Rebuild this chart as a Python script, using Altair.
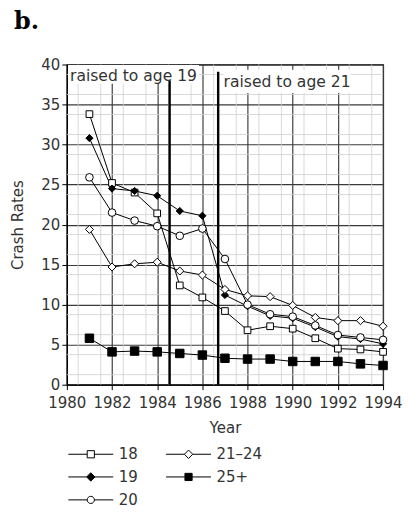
import altair as alt
import pandas as pd

# ---------------- data ----------------
YEARS = [1981, 1982, 1983, 1984, 1985, 1986, 1987, 1988, 1989, 1990, 1991, 1992, 1993, 1994]
SERIES = ["18", "19", "20", "21–24", "25+"]
RATE_18 = [33.8, 25.2, 24.0, 21.4, 12.4, 10.9, 9.2, 6.8, 7.3, 7.0, 5.8, 4.5, 4.4, 4.1]
RATE_19 = [30.8, 24.5, 24.2, 23.6, 21.7, 21.1, 11.2, 9.8, 8.6, 8.3, 7.2, 6.0, 5.7, 5.1]
RATE_20 = [25.9, 21.5, 20.5, 19.8, 18.6, 19.5, 15.7, 10.0, 8.8, 8.5, 7.4, 6.2, 5.9, 5.6]
RATE_21_24 = [19.4, 14.7, 15.1, 15.3, 14.2, 13.7, 11.9, 11.1, 11.0, 9.9, 8.4, 8.0, 8.0, 7.3]
RATE_25P = [5.8, 4.1, 4.2, 4.1, 3.9, 3.7, 3.3, 3.2, 3.2, 2.9, 2.9, 2.9, 2.6, 2.4]

NOTE_TEXT = ["raised to age 19", "raised to age 21"]
NOTE_X = [1982.95, 1989.75]
NOTE_Y = [38.55, 37.75]
BOX_X1 = [1980.05, 1986.95]
BOX_X2 = [1985.85, 1992.55]
BOX_Y1 = [37.6, 36.45]
BOX_Y2 = [39.95, 39.35]

LAW_X = [1984.55, 1986.7]
LAW_TOP = [38.0, 39.1]

AXIS_YEARS = list(range(1980, 1995))
AXIS_RATES = [v * 2.5 for v in range(17)]
MINOR_YEARS = [y + 0.5 for y in range(1980, 1994)]
MINOR_RATES = [v * 2.5 + 1.25 for v in range(16)]

# ---------------- tables ----------------
rows = []
for name, vals in zip(SERIES, [RATE_18, RATE_19, RATE_20, RATE_21_24, RATE_25P]):
    for yr, v in zip(YEARS, vals):
        rows.append({"year": yr, "rate": v, "series": name})
df = pd.DataFrame(rows)

notes = pd.DataFrame({"text": NOTE_TEXT, "x": NOTE_X, "y": NOTE_Y,
                      "x1": BOX_X1, "x2": BOX_X2, "y1": BOX_Y1, "y2": BOX_Y2})
laws = pd.DataFrame({"x": LAW_X, "top": LAW_TOP, "bottom": [0, 0]})
minor_v = pd.DataFrame({"x": MINOR_YEARS})
minor_h = pd.DataFrame({"y": MINOR_RATES})

FONT = "DejaVu Sans"
TXT = "#333333"
GRID = "#3a3a3a"

xscale = alt.Scale(domain=[1980, 1994], nice=False, zero=False)
yscale = alt.Scale(domain=[0, 40], nice=False)

x_axis = alt.Axis(
    values=AXIS_YEARS, format="d",
    labelExpr="datum.value % 2 === 0 ? datum.label : ''",
    title="Year", grid=True, gridColor=GRID, gridWidth=1.15,
    domainColor="black", domainWidth=1.2, tickColor="black", tickSize=5,
    labelPadding=6, labelFont=FONT, labelFontSize=15, labelColor=TXT,
    titleFont=FONT, titleFontSize=15, titleFontWeight="normal", titleColor=TXT,
    titlePadding=10, labelOverlap=False, labelFlush=False,
)
y_axis = alt.Axis(
    values=AXIS_RATES,
    labelExpr="datum.value % 5 === 0 ? datum.label : ''",
    title="Crash Rates", grid=True, gridColor=GRID, gridWidth=1.15,
    domainColor="black", domainWidth=1.2, tickColor="black", tickSize=5,
    tickOpacity={"condition": {"test": "datum.value % 5 !== 0", "value": 0}, "value": 1},
    labelPadding=2, labelFont=FONT, labelFontSize=15, labelColor=TXT,
    titleFont=FONT, titleFontSize=15, titleFontWeight="normal", titleColor=TXT,
    titlePadding=15, labelOverlap=False, labelFlush=False,
)

base = alt.Chart(df)

minor_v_layer = alt.Chart(minor_v).mark_rule(color="#cfcfcf", strokeWidth=0.8).encode(
    x=alt.X("x:Q", scale=xscale, axis=x_axis)
)
minor_h_layer = alt.Chart(minor_h).mark_rule(color="#cfcfcf", strokeWidth=0.8).encode(
    y=alt.Y("y:Q", scale=yscale, axis=y_axis)
)

boxes = alt.Chart(notes).mark_rect(fill="white").encode(
    x=alt.X("x1:Q", scale=xscale), x2="x2:Q",
    y=alt.Y("y1:Q", scale=yscale), y2="y2:Q",
)

lines = base.mark_line(color="black", strokeWidth=1).encode(
    x=alt.X("year:Q", scale=xscale),
    y=alt.Y("rate:Q", scale=yscale),
    detail="series:N",
)

points = base.mark_point(filled=True, stroke="black", strokeWidth=1, opacity=1).encode(
    x=alt.X("year:Q", scale=xscale),
    y=alt.Y("rate:Q", scale=yscale),
    shape=alt.Shape("series:N", scale=alt.Scale(domain=SERIES,
                    range=["square", "diamond", "circle", "diamond", "square"]), legend=None),
    fill=alt.Fill("series:N", scale=alt.Scale(domain=SERIES,
                  range=["white", "black", "white", "white", "black"]), legend=None),
    size=alt.Size("series:N", scale=alt.Scale(domain=SERIES, range=[45, 72, 50, 72, 45]), legend=None),
)

law_rules = alt.Chart(laws).mark_rule(color="black", strokeWidth=2.4).encode(
    x=alt.X("x:Q", scale=xscale),
    y=alt.Y("bottom:Q", scale=yscale), y2="top:Q",
)

note_text = alt.Chart(notes).mark_text(font=FONT, fontSize=15.6, color=TXT, align="center",
                                       baseline="middle").encode(
    x=alt.X("x:Q", scale=xscale), y=alt.Y("y:Q", scale=yscale), text="text:N"
)

# legend: line + marker symbols (custom paths; 1 unit = 10 px at symbolSize 400)
L = 2.25
s, d = 0.36, 0.42
SQ = f"M-{L},0H-{s}M{s},0H{L}M-{s},-{s}H{s}V{s}H-{s}Z"
DI = f"M-{L},0H-{d}M{d},0H{L}M-{d},0L0,-{d}L{d},0L0,{d}Z"
CI = f"M-{L},0H-{s}M{s},0H{L}M-{s},0A{s},{s},0,1,0,{s},0A{s},{s},0,1,0,-{s},0Z"
LEG_SHAPES = [SQ, DI, CI, DI, SQ]
LEG_FILLS = ["white", "black", "white", "white", "black"]

leg = alt.Legend(title=None, orient="none", legendX=13.5, legendY=380, columns=2,
                 columnPadding=26, rowPadding=4, symbolSize=400, symbolStrokeWidth=1,
                 labelFont=FONT, labelFontSize=15,
                 labelColor=TXT, labelOffset=17.5, padding=0, symbolOpacity=1)

legend_layer = base.mark_point(filled=False, strokeWidth=1, opacity=1).encode(
    shape=alt.Shape("series:N", scale=alt.Scale(domain=SERIES, range=LEG_SHAPES), legend=leg),
    fill=alt.Fill("series:N", scale=alt.Scale(domain=SERIES, range=LEG_FILLS), legend=leg),
    stroke=alt.Stroke("series:N", scale=alt.Scale(domain=SERIES, range=["black"] * 5), legend=leg),
).transform_filter("datum.year < 0")

chart = alt.layer(
    minor_v_layer, minor_h_layer, boxes, lines, points, law_rules, note_text, legend_layer
).resolve_scale(shape="independent", fill="independent", stroke="independent").properties(
    width=317, height=321,
    padding={"left": 2, "top": 1, "right": 0, "bottom": 0},
    title=alt.Title("b.", font="DejaVu Serif", fontSize=24, fontWeight="bold", color="black",
                    anchor="start", frame="group", dx=-53, offset=24),
).configure_view(stroke="black", strokeWidth=1.2)

chart.save("out.html", embed_options={"renderer": "svg", "actions": False})
